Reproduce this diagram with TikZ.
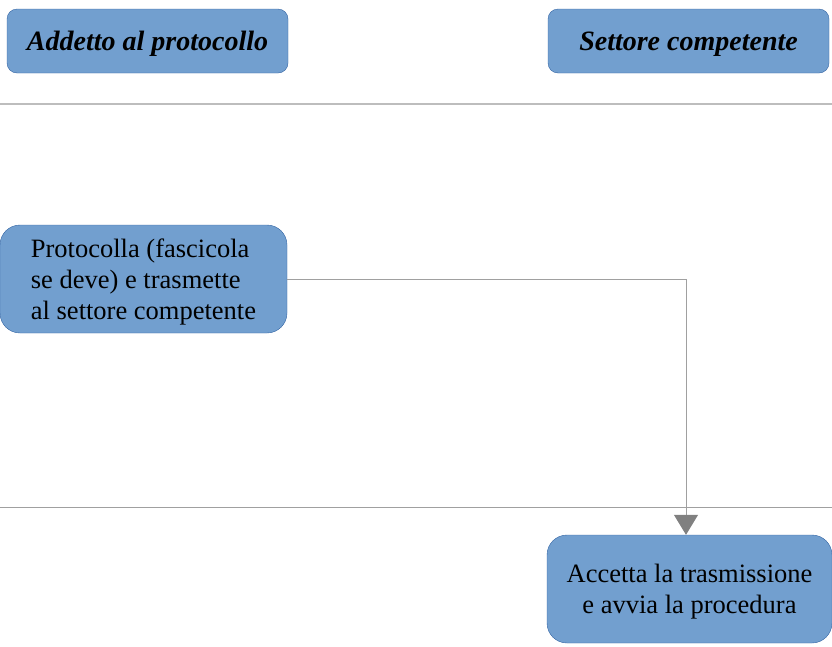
\documentclass[tikz,border=0pt]{standalone}
\usepackage{fontspec}
\setmainfont{Liberation Serif}
\usetikzlibrary{arrows.meta}
\definecolor{boxblue}{HTML}{729FCF}
\definecolor{boxedge}{HTML}{3465A4}
\definecolor{lanegray}{HTML}{BDBDBD}
\definecolor{flowgray}{HTML}{A0A0A0}
\definecolor{tipgray}{HTML}{808080}

\begin{document}
\begin{tikzpicture}[x=1pt, y=-1pt]
	\tikzstyle{lane} = [rectangle, rounded corners=10pt, draw=boxedge, fill=boxblue, minimum width=281pt, minimum height=64pt, text depth=0pt, font=\fontsize{28}{32}\selectfont\bfseries\itshape]
	\tikzstyle{task} = [rectangle, rounded corners=20pt, draw=boxedge, fill=boxblue, minimum height=108pt, text depth=0pt, font=\fontsize{26.5}{31}\selectfont]
	\tikzstyle{flow} = [draw=flowgray, line width=1pt, -{Triangle[width=24pt, length=20pt, color=tipgray]}]
	\useasboundingbox (0,0) rectangle (832,646);
	\node[lane] (addetto) at (147.5, 41) {Addetto al protocollo};
	\node[lane] (settore) at (688.5, 41) {Settore competente};
	\draw [lanegray, line width=1.5pt] (0,104) -- (832,104);
	\draw [flowgray, line width=1pt]   (0,507) -- (832,507);
	\node[task, minimum width=287pt, align=left] (protocolla) at (143.5, 279)
		{Protocolla (fascicola\\se deve) e trasmette\\al settore competente};
	\node[task, minimum width=285pt, align=center] (accetta) at (689.5, 589)
		{Accetta la trasmissione\\e avvia la procedura};
	\draw [flow] (protocolla.east) -| ([xshift=-3.5pt]accetta.north);
\end{tikzpicture}
\end{document}
